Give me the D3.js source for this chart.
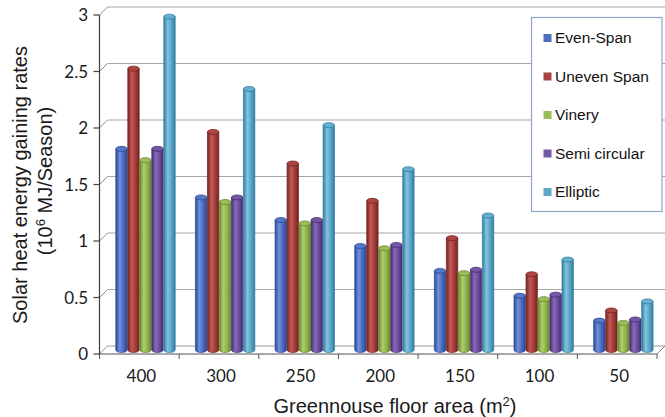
<!DOCTYPE html>
<html><head><meta charset="utf-8">
<script src="https://cdn.jsdelivr.net/npm/d3@7"></script>
<style>body{margin:0;background:#fff}svg{display:block}</style>
</head><body>
<svg id="c" width="665" height="417"></svg>
<script>
const categories = ["400","300","250","200","150","100","50"];
const seriesNames = ["Even-Span","Uneven Span","Vinery","Semi circular","Elliptic"];
const evenSpan     = [1.78,1.35,1.15,0.92,0.70,0.48,0.26];
const unevenSpan   = [2.49,1.93,1.65,1.32,0.99,0.67,0.35];
const vinery       = [1.68,1.31,1.12,0.90,0.68,0.45,0.24];
const semiCircular = [1.78,1.35,1.15,0.93,0.71,0.49,0.27];
const elliptic     = [2.95,2.31,1.99,1.60,1.19,0.80,0.43];
const yTicks = [0,0.5,1,1.5,2,2.5,3];
const yTickLabels = ["0","0.5","1","1.5","2","2.5","3"];

const seriesValues = [evenSpan, unevenSpan, vinery, semiCircular, elliptic];
const palette = [
  {mid:"#4567bf", light:"#7091dc", dark:"#2d4892", top:"#5577c9", legend:"#4f6fc0"},
  {mid:"#a03a38", light:"#c45854", dark:"#702422", top:"#ae4542", legend:"#a84442"},
  {mid:"#8fb04a", light:"#b1ce6e", dark:"#68882e", top:"#9dbd58", legend:"#9bbb59"},
  {mid:"#684b9a", light:"#896aba", dark:"#452e6d", top:"#7356a6", legend:"#7458a8"},
  {mid:"#55a2c4", light:"#84c4de", dark:"#327ca0", top:"#65afd0", legend:"#5fa8cc"}
];

const svg = d3.select("#c");
const defs = svg.append("defs");
palette.forEach((p,i)=>{
  const g = defs.append("linearGradient").attr("id","g"+i).attr("x1",0).attr("x2",1).attr("y1",0).attr("y2",0);
  g.append("stop").attr("offset","0").attr("stop-color",p.dark);
  g.append("stop").attr("offset","0.35").attr("stop-color",p.light);
  g.append("stop").attr("offset","0.7").attr("stop-color",p.mid);
  g.append("stop").attr("offset","1").attr("stop-color",p.dark);
});

const X0 = 99.5, X1 = 657, DX = 8, DY = -8;
const x = d3.scaleBand().domain(categories).range([X0, X1]);
const xs = d3.scaleBand().domain(seriesNames).range([16, 76]);
const y = d3.scaleLinear().domain([0,3]).range([354,15]);

const grid = svg.append("g");
yTicks.forEach(t=>{
  const yy = y(t);
  grid.append("line").attr("x1",X0).attr("y1",yy).attr("x2",X0+DX).attr("y2",yy+DY)
    .attr("stroke","#8c8c8c").attr("stroke-width",1);
  if (t>0) grid.append("line").attr("x1",X0+DX).attr("y1",yy+DY).attr("x2",665).attr("y2",yy+DY)
    .attr("stroke","#a6a6a6").attr("stroke-width",1);
});
grid.append("line").attr("x1",X0+DX).attr("y1",y(0)+DY).attr("x2",X1+DX).attr("y2",y(0)+DY)
  .attr("stroke","#9a9a9a");
grid.append("line").attr("x1",X1).attr("y1",y(0)).attr("x2",X1+DX).attr("y2",y(0)+DY)
  .attr("stroke","#8c8c8c");

const bars = svg.append("g");
categories.forEach((c,ci)=>{
  seriesNames.forEach((s,si)=>{
    const v = seriesValues[si][ci];
    const xl = x(c) + xs(s) + 0.3;
    const w = xs.bandwidth() - 0.6;
    const rx = w/2, ry = 2.5;
    const yt = y(v) + DY/2;
    const yb = y(0) + DY/2;
    const p = palette[si];
    bars.append("path")
      .attr("d", `M${xl},${yt} L${xl},${yb} A${rx},${ry} 0 0 0 ${xl+w},${yb} L${xl+w},${yt} Z`)
      .attr("fill","url(#g"+si+")").attr("stroke",p.dark).attr("stroke-width",0.7);
    bars.append("ellipse").attr("cx",xl+rx).attr("cy",yt).attr("rx",rx).attr("ry",ry)
      .attr("fill",p.top).attr("stroke",p.dark).attr("stroke-width",0.8);
  });
});

const ax = svg.append("g");
ax.append("line").attr("x1",X0).attr("y1",y(3)).attr("x2",X0).attr("y2",y(0)+0.5)
  .attr("stroke","#404040").attr("stroke-width",1.2);
ax.append("line").attr("x1",X0).attr("y1",y(0)).attr("x2",X1).attr("y2",y(0))
  .attr("stroke","#555").attr("stroke-width",1.2);
yTicks.forEach((t,i)=>{
  ax.append("line").attr("x1",X0-6).attr("y1",y(t)).attr("x2",X0).attr("y2",y(t))
    .attr("stroke","#404040").attr("stroke-width",1.2);
  ax.append("text").attr("x",88).attr("y",y(t)).attr("dy","0.36em")
    .attr("text-anchor","end").attr("font-family","Lato, 'Liberation Sans', sans-serif")
    .attr("font-size","17px").attr("fill","#1a1a1a").text(yTickLabels[i]);
});
categories.forEach((c,i)=>{
  ax.append("line").attr("x1",x(c)).attr("y1",y(0)).attr("x2",x(c)).attr("y2",y(0)+5)
    .attr("stroke","#555");
  ax.append("text").attr("x",x(c)+x.bandwidth()/2+2).attr("y",382)
    .attr("text-anchor","middle").attr("font-family","Lato, 'Liberation Sans', sans-serif")
    .attr("font-size","17px").attr("fill","#1a1a1a").text(c);
});
ax.append("line").attr("x1",X1).attr("y1",y(0)).attr("x2",X1).attr("y2",y(0)+5).attr("stroke","#555");

const tf = "'Liberation Sans', Arial, sans-serif";
const xt = svg.append("text").attr("x",395).attr("y",413).attr("text-anchor","middle")
  .attr("font-family",tf).attr("font-size","20px").attr("fill","#1a1a1a");
xt.append("tspan").text("Greennouse floor area (m");
xt.append("tspan").attr("dy","-7").attr("font-size","13px").text("2");
xt.append("tspan").attr("dy","7").text(")");

svg.append("text").attr("transform","translate(27,185) rotate(-90)").attr("text-anchor","middle")
  .attr("font-family",tf).attr("font-size","20px").attr("fill","#1a1a1a")
  .text("Solar heat energy gaining rates");
const yt2 = svg.append("text").attr("transform","translate(52,181) rotate(-90)").attr("text-anchor","middle")
  .attr("font-family",tf).attr("font-size","20px").attr("fill","#1a1a1a");
yt2.append("tspan").text("(10");
yt2.append("tspan").attr("dy","-7").attr("font-size","13px").text("6");
yt2.append("tspan").attr("dy","7").text(" MJ/Season)");

const lg = svg.append("g");
lg.append("rect").attr("x",531.5).attr("y",17.5).attr("width",130.5).attr("height",194)
  .attr("fill","#fff").attr("stroke","#8ea2cc").attr("stroke-width",1.2);
seriesNames.forEach((s,i)=>{
  const by = 43 + i*38.5;
  lg.append("rect").attr("x",543.5).attr("y",by-9).attr("width",8).attr("height",8)
    .attr("fill",palette[i].legend);
  lg.append("text").attr("x",555).attr("y",by).attr("font-family",tf)
    .attr("font-size","15.5px").attr("fill","#111").text(s);
});
</script>
</body></html>
